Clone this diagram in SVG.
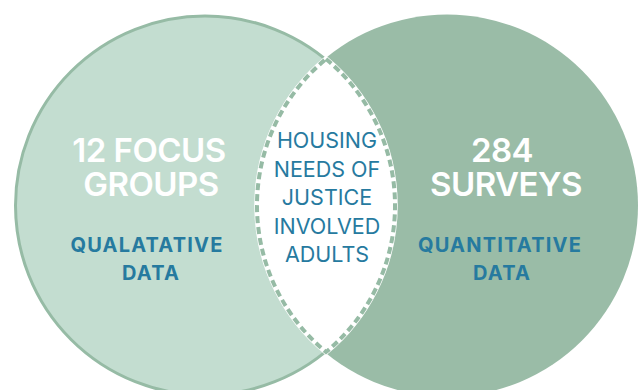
<svg xmlns="http://www.w3.org/2000/svg" width="639" height="390" viewBox="0 0 639 390">
<style>
.big{font-family:Inter,"Noto Sans",sans-serif;font-weight:600;font-size:33px;fill:#ffffff;text-anchor:middle;letter-spacing:-0.5px}
.sub{font-family:Inter,"Noto Sans",sans-serif;font-weight:700;font-size:20px;fill:#267a9f;text-anchor:middle;letter-spacing:1.2px}
.mid{font-family:Inter,"Noto Sans",sans-serif;font-weight:400;font-size:21.5px;fill:#267a9f;text-anchor:middle}
</style>
<rect width="639" height="390" fill="#ffffff"/>
<g id="right-circle">
<circle cx="447" cy="205.5" r="191" fill="#9abca7"/>
</g>
<g id="left-circle">
<circle cx="205" cy="205.5" r="189.5" fill="#c3ddd0" stroke="#96bba5" stroke-width="3"/>
</g>
<g id="overlap">
<path d="M326,59 A190,190 0 0 1 326,352 A190,190 0 0 1 326,59 Z" fill="#ffffff" stroke="#ffffff" stroke-width="5.5"/>
<path d="M326,59 A190,190 0 0 1 326,352 A190,190 0 0 1 326,59 Z" fill="none" stroke="#96bba5" stroke-width="4" stroke-dasharray="7 4"/>
</g>
<g id="left-text">
<text class="big" x="149" y="162">12 FOCUS</text>
<text class="big" x="151" y="196">GROUPS</text>
<text class="sub" x="147" y="252">QUALATATIVE</text>
<text class="sub" x="151" y="280">DATA</text>
</g>
<g id="right-text">
<text class="big" x="502" y="162">284</text>
<text class="big" x="506" y="196">SURVEYS</text>
<text class="sub" x="500" y="252">QUANTITATIVE</text>
<text class="sub" x="502" y="280">DATA</text>
</g>
<g id="center-text">
<text class="mid" x="327" y="148">HOUSING</text>
<text class="mid" x="327" y="177">NEEDS OF</text>
<text class="mid" x="327" y="205">JUSTICE</text>
<text class="mid" x="327" y="234">INVOLVED</text>
<text class="mid" x="327" y="262">ADULTS</text>
</g>
</svg>
